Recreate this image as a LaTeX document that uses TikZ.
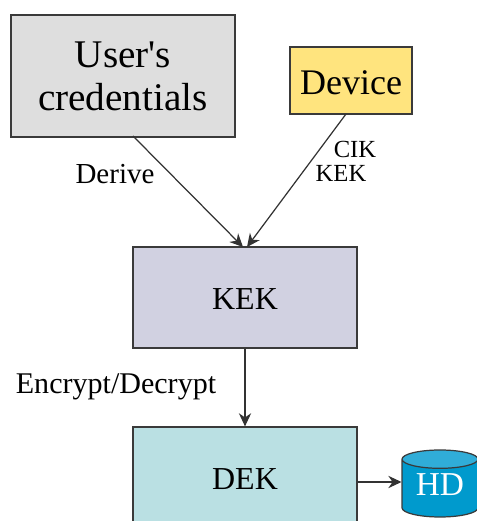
\documentclass[tikz,border=0pt]{standalone}
\usepackage{fontspec}
\setmainfont{Liberation Serif}
\newfontfamily\plainserif{Liberation Serif}
\usepackage{tikz}
\usetikzlibrary{arrows.meta, shapes.geometric, positioning}
\definecolor{usergray}{HTML}{DEDEDE}
\definecolor{deviceyellow}{HTML}{FFE47E}
\definecolor{kekviolet}{HTML}{D1D1E1}
\definecolor{dekteal}{HTML}{BAE0E3}
\definecolor{hdblue}{HTML}{009ACD}
\definecolor{hdtop}{HTML}{30ADD8}
\definecolor{linegray}{HTML}{3A3A3A}
\tikzset{
  >={Stealth[length=7.5pt,width=7pt]},
  keybox/.style={draw=linegray, line width=.7pt, minimum width=4.48cm, align=center, inner sep=0pt},
  keytext/.style={text height=14pt, text depth=0pt, font=\fontsize{18.2}{22}\selectfont},
  steplabel/.style={inner sep=0pt, font=\fontsize{16.5}{18}\selectfont},
  keylabel/.style={inner sep=0pt, font=\fontsize{14}{18}\selectfont},
  link/.style={->, draw=black!80, line width=.7pt}
}
\begin{document}
\begin{tikzpicture}
        \useasboundingbox (0,0) rectangle (9.54,10.42);
        \clip (0,0) rectangle (9.54,10.42);
        \node (user) at (2.46,8.9)[keybox, fill=usergray, minimum height=2.44cm, font=\plainserif\fontsize{22.3}{24.5}\selectfont]{User's\\credentials};
        \node (device) at (7.02,8.81)[keybox, fill=deviceyellow, minimum width=2.44cm, minimum height=1.34cm, text height=15.5pt, text depth=0pt, font=\fontsize{20.5}{25}\selectfont]{Device};
        \node (kek) at (4.9,4.47)[keybox, keytext, fill=kekviolet, minimum height=2.02cm]{KEK};
        \node (dek) at (4.9,0.87)[keybox, keytext, fill=dekteal, minimum height=2.02cm]{DEK};
        \node (hd) at (8.8,0.75)[anchor=shape center, cylinder, shape border rotate=90, aspect=.38, draw=linegray, line width=.7pt, cylinder uses custom fill, cylinder body fill=hdblue, cylinder end fill=hdtop, minimum width=1.52cm, minimum height=1.34cm, inner sep=0pt, text=white, text depth=4pt, font=\fontsize{19}{22}\selectfont]{HD};
        \coordinate (userout) at (2.66,7.7);
        \coordinate (deviceout) at (6.92,8.14);
        \coordinate (kekleft) at (4.86,5.48);
        \coordinate (kekright) at (4.94,5.48);
        \coordinate (hdin) at (8.03,0.78);
        \draw [link] (userout)--(kekleft);
        \draw [link] (deviceout)--(kekright);
        \draw [link] (kek)--(dek);
        \draw [link] (dek.east |- hdin)--(hdin);
        \node (derive) at (2.3,6.94)[steplabel]{Derive};
        \node (cik) at (7.1,7.43)[keylabel]{CIK};
        \node (kekkey) at (6.82,6.95)[keylabel]{KEK};
        \node (crypt) at (2.32,2.68)[steplabel, font=\fontsize{17.1}{18}\selectfont]{Encrypt/Decrypt};
\end{tikzpicture}
\end{document}
